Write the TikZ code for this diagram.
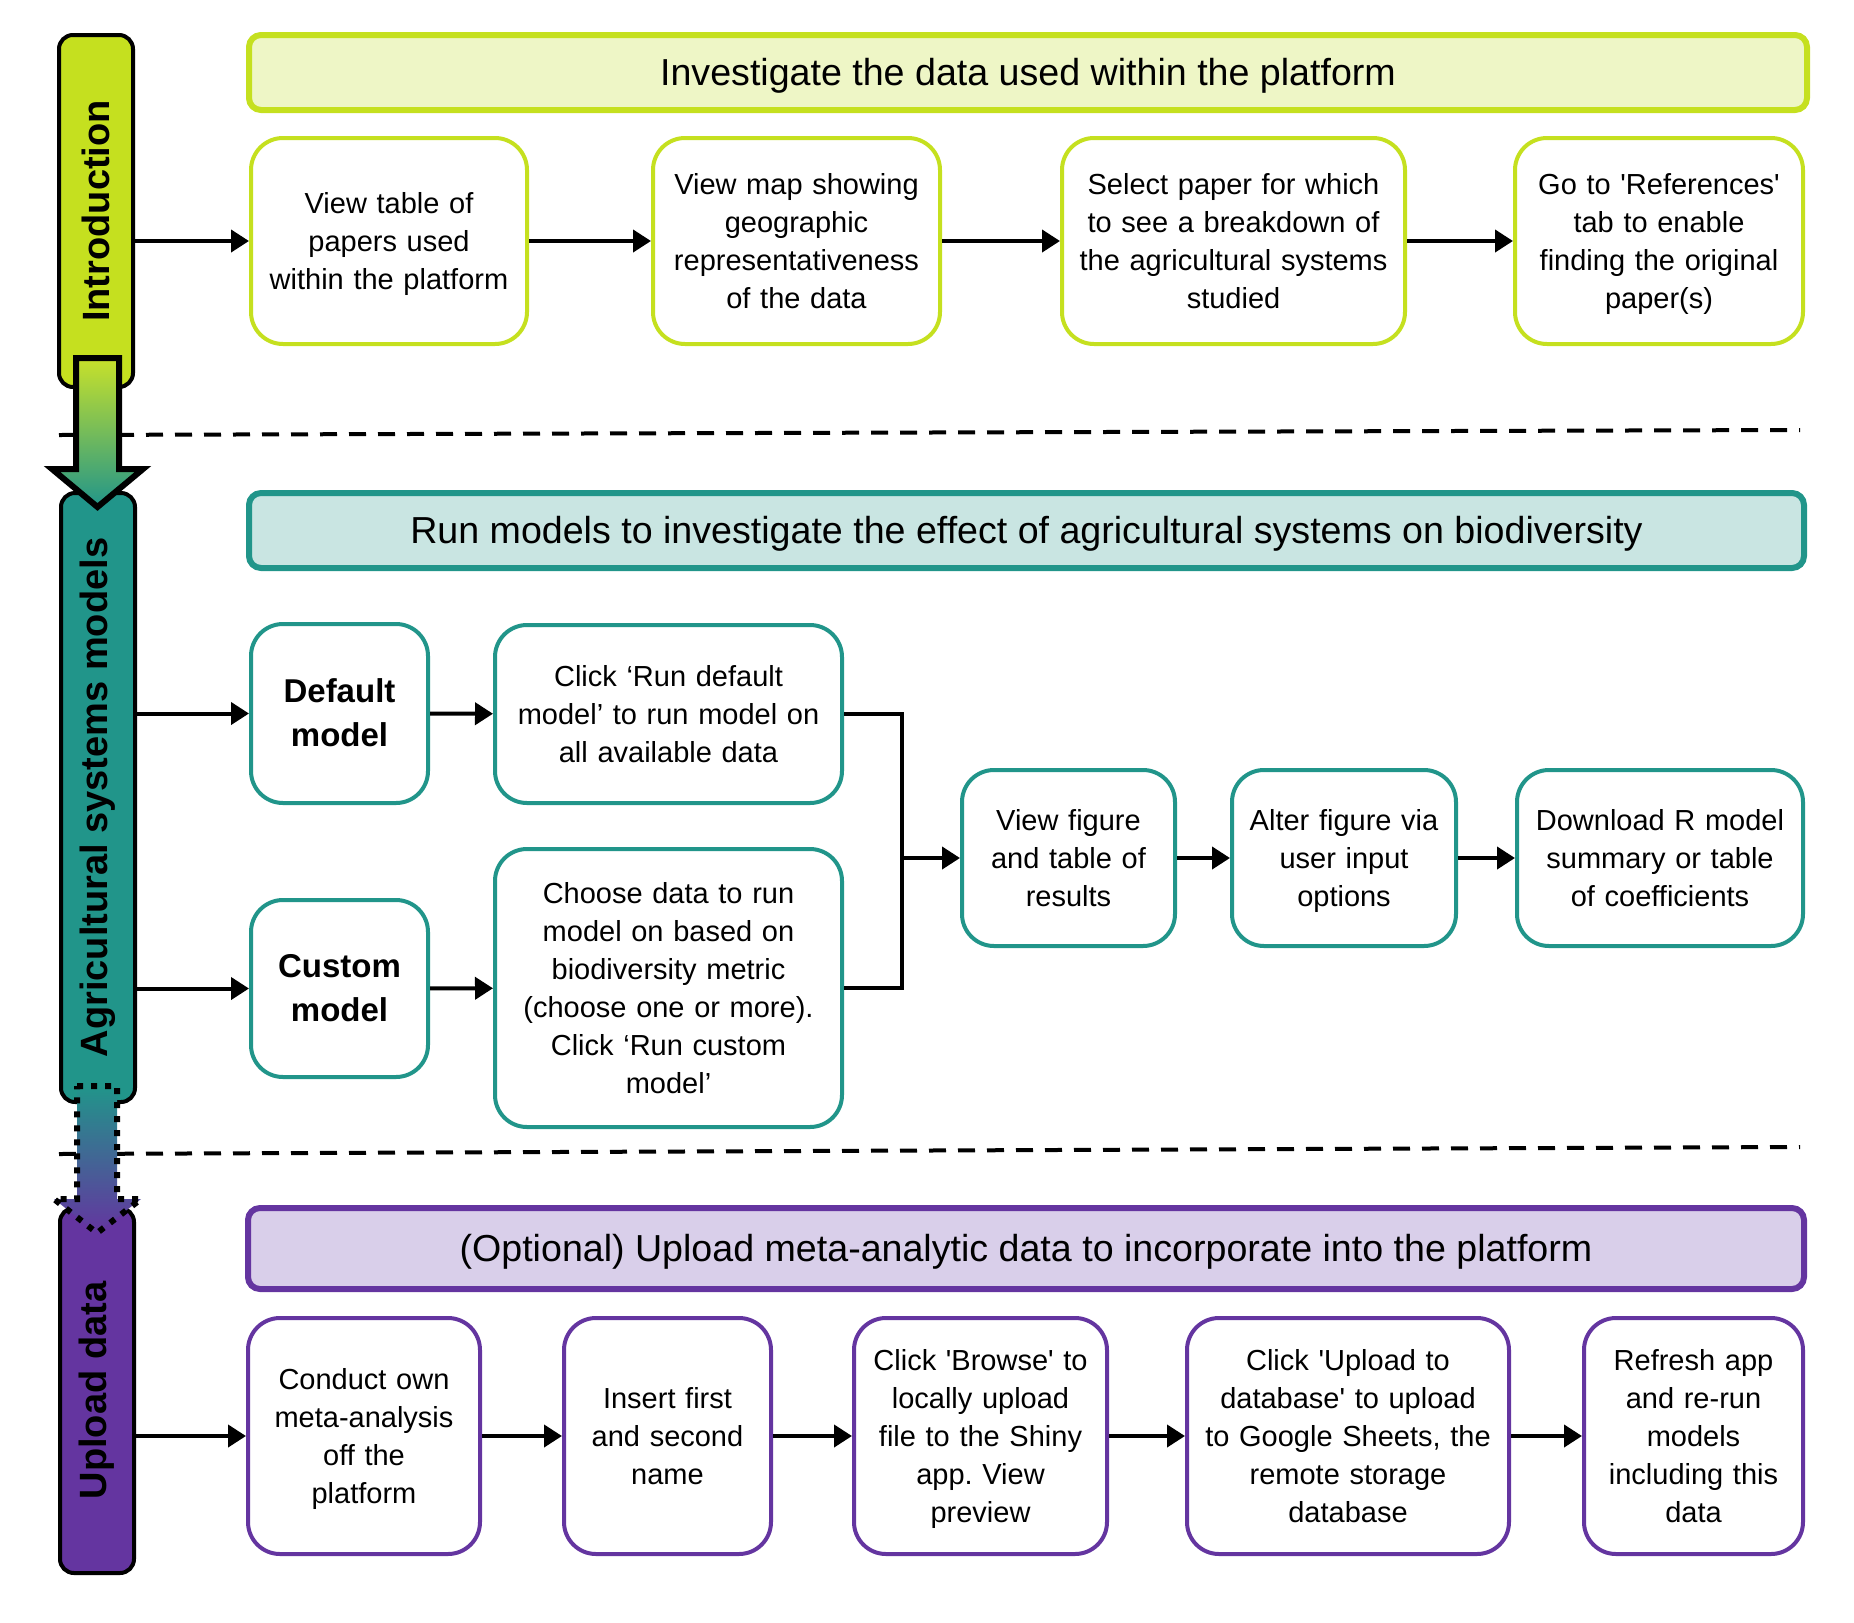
\documentclass[tikz,border=0pt]{standalone}
\usepackage{fontspec}
\setmainfont{Liberation Sans}
\usetikzlibrary{arrows.meta}
\frenchspacing

\definecolor{introcol}{HTML}{C5E01F}
\definecolor{introlight}{HTML}{EEF6C6}
\definecolor{agricol}{HTML}{21958A}
\definecolor{agrilight}{HTML}{C9E5E2}
\definecolor{uploadcol}{HTML}{6435A0}
\definecolor{uploadlight}{HTML}{D9CFEA}

\newcommand{\squote}{\textquotesingle}
% line boxes as a word processor sets them
\newcommand{\topstrut}{\rule{0pt}{\dimexpr(\baselineskip+0.693em)/2\relax}}
\newcommand{\botstrut}{\rule[\dimexpr(0.693em-\baselineskip)/2\relax]{0pt}{0pt}}

\tikzset{
  linebox/.style={execute at begin node=\topstrut, execute at end node=\botstrut},
  stagebar/.style={draw=black, line width=2pt, rounded corners=7pt, rotate=90,
    minimum height=37pt, inner sep=0pt, font=\fontsize{19}{22}\selectfont\bfseries},
  headbar/.style={linebox, line width=3pt, rounded corners=6pt, minimum height=37.5pt,
    inner sep=0pt, font=\fontsize{18.8}{22}\selectfont},
  stepbox/.style={linebox, draw, fill=white, line width=2pt, rounded corners=16pt,
    inner sep=0pt, align=center, font=\fontsize{14.5}{19}\selectfont},
  choicebox/.style={stepbox, font=\fontsize{16.5}{22}\selectfont\bfseries},
  size/.style 2 args={minimum width=#1, text width=#1-6pt, minimum height=#2},
  flow/.style={->, line width=2pt},
  divider/.style={line width=2pt, dash pattern=on 8.5pt off 6pt}
}

\begin{document}
\begin{tikzpicture}[x=0.5pt, y=-0.5pt, >={Triangle[length=9pt,width=11pt]}]
\useasboundingbox (0,0) rectangle (1854,1623);

% dividers between the stages
\draw[divider] (59,435) -- (1800,430);
\draw[divider] (59,1154) -- (1800,1147);

% stage bars
\node[stagebar, fill=introcol, minimum width=176pt] (introbar) at (96,211) {Introduction};
\node[stagebar, fill=agricol, minimum width=304.5pt] (agribar) at (98,797.5) {Agricultural systems models};
\node[stagebar, fill=uploadcol, minimum width=182.5pt] (uploadbar) at (97,1390.5) {Upload data};

% arrows between the stages
\draw[line width=3pt, top color=introcol!95!white, bottom color=agricol]
  (76,358) -- (119,358) -- (119,469) -- (143,469) -- (97.5,507) -- (52,469) -- (76,469) -- cycle;
\draw[line width=3pt, dash pattern=on 3pt off 4pt, top color=agricol, bottom color=uploadcol]
  (77,1086) -- (117,1086) -- (117,1199) -- (141,1199) -- (97,1233) -- (54,1199) -- (77,1199) -- cycle;

% Introduction
\node[headbar, draw=introcol, fill=introlight, minimum width=779pt] (introhead) at (1028,72.5)
  {Investigate the data used within the platform};
\node[stepbox, draw=introcol, size={138pt}{103pt}] (intro1) at (389,241)
  {View table of\\papers used\\within the platform};
\node[stepbox, draw=introcol, size={143.5pt}{103pt}] (intro2) at (796.5,241)
  {View map showing\\geographic\\representativeness\\of the data};
\node[stepbox, draw=introcol, size={171.5pt}{103pt}] (intro3) at (1233.5,241)
  {Select paper for which\\to see a breakdown of\\the agricultural systems\\studied};
\node[stepbox, draw=introcol, size={144pt}{103pt}] (intro4) at (1659,241)
  {Go to \squote References\squote\\tab to enable\\finding the original\\paper(s)};

\draw[flow] (introbar.south |- intro1.west) -- (intro1);
\draw[flow] (intro1) -- (intro2);
\draw[flow] (intro2) -- (intro3);
\draw[flow] (intro3) -- (intro4);

% Agricultural systems models
\node[headbar, draw=agricol, fill=agrilight, minimum width=777.5pt] (agrihead) at (1026.5,530.5)
  {Run models to investigate the effect of agricultural systems on biodiversity};
\node[choicebox, draw=agricol, size={88.5pt}{89.5pt}] (defmodel) at (339.5,713.5)
  {Default\\model};
\node[choicebox, draw=agricol, size={88.5pt}{88.5pt}] (custmodel) at (339.5,988.5)
  {Custom\\model};
\node[stepbox, draw=agricol, size={173.5pt}{89pt}] (rundefault) at (668.5,714)
  {Click ‘Run default\\model’ to run model on\\all available data};
\node[stepbox, draw=agricol, size={173.5pt}{139pt}] (runcustom) at (668.5,988)
  {Choose data to run\\model on based on\\biodiversity metric\\(choose one or more).\\Click ‘Run custom\\model’};
\node[stepbox, draw=agricol, size={106.5pt}{88pt}] (viewfig) at (1068.5,858)
  {View figure\\and table of\\results};
\node[stepbox, draw=agricol, size={112pt}{88pt}] (alterfig) at (1344,858)
  {Alter figure via\\user input\\options};
\node[stepbox, draw=agricol, size={143pt}{88pt}] (download) at (1660,858)
  {Download R model\\summary or table\\of coefficients};
\coordinate (join) at (902,858);

\draw[flow] (agribar.south |- defmodel.west) -- (defmodel);
\draw[flow] (agribar.south |- custmodel.west) -- (custmodel);
\draw[flow] (defmodel) -- (rundefault);
\draw[flow] (custmodel) -- (runcustom);
\draw[line width=2pt] (rundefault.east) -| (join) |- (runcustom.east);
\draw[flow] (join) -- (viewfig);
\draw[flow] (viewfig) -- (alterfig);
\draw[flow] (alterfig) -- (download);

% Upload data
\node[headbar, draw=uploadcol, fill=uploadlight, minimum width=778pt, minimum height=40.5pt] (uploadhead) at (1026,1248.5)
  {(Optional) Upload meta-analytic data to incorporate into the platform};
\node[stepbox, draw=uploadcol, size={116pt}{118pt}] (up1) at (364,1436)
  {Conduct own\\meta-analysis\\off the\\platform};
\node[stepbox, draw=uploadcol, size={103.5pt}{118pt}] (up2) at (667.5,1436)
  {Insert first\\and second\\name};
\node[stepbox, draw=uploadcol, size={126.5pt}{118pt}] (up3) at (980.5,1436)
  {Click \squote Browse\squote\ to\\locally upload\\file to the Shiny\\app. View\\preview};
\node[stepbox, draw=uploadcol, size={161pt}{118pt}] (up4) at (1348,1436)
  {Click \squote Upload to\\database\squote\ to upload\\to Google Sheets, the\\remote storage\\database};
\node[stepbox, draw=uploadcol, size={109.5pt}{118pt}] (up5) at (1693.5,1436)
  {Refresh app\\and re-run\\models\\including this\\data};

\draw[flow] (uploadbar.south |- up1.west) -- (up1);
\draw[flow] (up1) -- (up2);
\draw[flow] (up2) -- (up3);
\draw[flow] (up3) -- (up4);
\draw[flow] (up4) -- (up5);
\end{tikzpicture}
\end{document}
